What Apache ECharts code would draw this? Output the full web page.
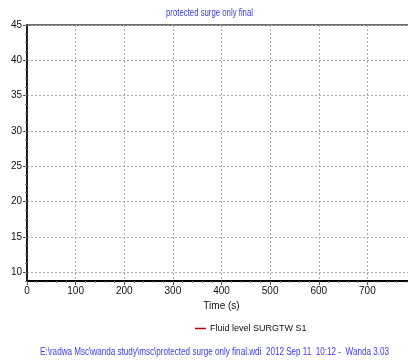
<!DOCTYPE html>
<html>
<head>
<meta charset="utf-8">
<script src="https://cdn.jsdelivr.net/npm/echarts@6/dist/echarts.min.js"></script>
<style>
  html, body { margin: 0; padding: 0; background: #fff; }
  #chart { width: 408px; height: 361px; }
</style>
</head>
<body>
<div id="chart"></div>
<script>
// Axis ticks and labels
const xTicks = [0, 100, 200, 300, 400, 500, 600, 700, 800];
const yTicks = [10, 15, 20, 25, 30, 35, 40, 45];

// Fluid level series (time in s, level in m); no samples fall inside the plotted window
const timeValues = [];
const fluidLevel = [];

const titleText = 'protected surge only final';
const seriesName = 'Fluid level SURGTW S1';
const footerText = 'E:\\radwa Msc\\wanda study\\msc\\protected surge only final.wdi  2012 Sep 11  10:12 -  Wanda 3.03';

const FONT = '"Liberation Sans", Arial, sans-serif';
const BLUE = '#3a3af0';

// Narrow heading text: measure at 10px and squeeze horizontally to the wanted width
const ctx = document.createElement('canvas').getContext('2d');
function squeeze(text, width) {
  ctx.font = '10px ' + FONT;
  return width / ctx.measureText(text).width;
}

const chart = echarts.init(document.getElementById('chart'), null, { renderer: 'canvas' });

chart.setOption({
  animation: false,
  backgroundColor: '#fff',
  graphic: [
    {
      type: 'text', x: 166, y: 8, scaleX: squeeze(titleText, 87),
      style: { text: titleText, fill: BLUE, font: '10px ' + FONT }
    },
    {
      type: 'text', x: 40, y: 347, scaleX: squeeze(footerText, 349),
      style: { text: footerText, fill: BLUE, font: '10px ' + FONT }
    }
  ],
  legend: {
    left: 190, top: 319,
    itemWidth: 11, itemHeight: 1.5, itemGap: 4,
    icon: 'rect',
    data: [seriesName],
    textStyle: { color: '#111', fontFamily: '"Liberation Sans Narrow", ' + FONT, fontSize: 9, padding: [0, 0, 0, -1] }
  },
  grid: {
    left: 27, top: 25, right: -8, bottom: 80,
    outerBoundsMode: 'none',
    show: true, borderColor: '#6e6e6e', borderWidth: 2, backgroundColor: 'transparent'
  },
  xAxis: {
    type: 'value',
    min: xTicks[0], max: xTicks[xTicks.length - 1], interval: 100,
    name: 'Time (s)', nameLocation: 'middle', nameGap: 20,
    nameTextStyle: { color: '#111', fontFamily: FONT, fontSize: 10 },
    axisLine: { show: true, onZero: false, lineStyle: { color: '#000', width: 2 } },
    axisTick: { show: true, length: 4, lineStyle: { color: '#555' } },
    minorTick: { show: true, splitNumber: 5, length: 2, lineStyle: { color: '#777' } },
    axisLabel: { color: '#111', fontFamily: FONT, fontSize: 10, margin: 5 },
    splitLine: { show: true, lineStyle: { color: '#ababab', type: [2, 2], width: 1 } }
  },
  yAxis: [
    {
      type: 'value',
      min: 8.75, max: 45,
      axisLine: { show: true, onZero: false, lineStyle: { color: '#000', width: 1.5 } },
      axisTick: { show: true, length: 4, customValues: yTicks, lineStyle: { color: '#555' } },
      axisLabel: { color: '#111', fontFamily: FONT, fontSize: 10, margin: 5, customValues: yTicks },
      splitLine: { show: true, lineStyle: { color: '#ababab', type: [2, 2], width: 1 } }
    },
    {
      // short minor ticks along the left edge
      type: 'value',
      position: 'left',
      min: 8.75, max: 45, interval: 1.25,
      axisLine: { show: false },
      axisTick: { show: true, length: 2, lineStyle: { color: '#777' } },
      axisLabel: { show: false },
      splitLine: { show: false }
    }
  ],
  series: [
    {
      name: seriesName,
      type: 'line',
      yAxisIndex: 0,
      showSymbol: false,
      color: '#c00000',
      lineStyle: { width: 1.5, color: '#c00000' },
      data: timeValues.map((t, i) => [t, fluidLevel[i]])
    }
  ]
});
</script>
</body>
</html>
